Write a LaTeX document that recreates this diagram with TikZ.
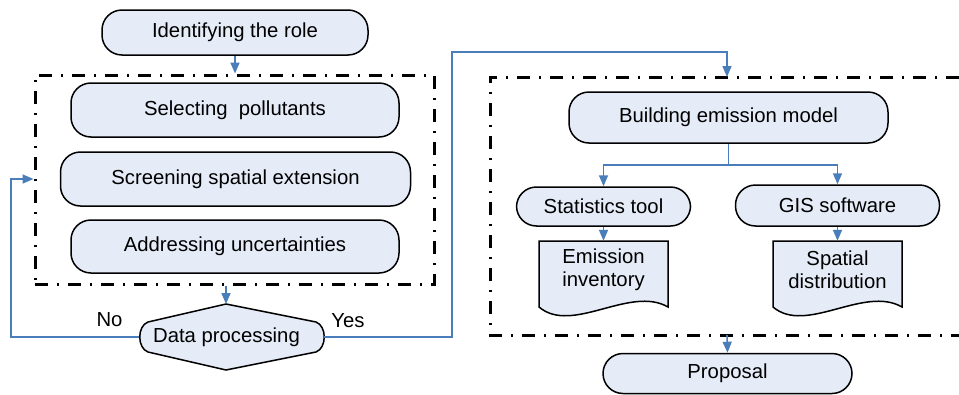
\documentclass[tikz,border=0pt]{standalone}
\usepackage{fontspec}
\setmainfont{Liberation Sans}
\usetikzlibrary{arrows.meta}
\definecolor{boxfill}{RGB}{229,236,247}
\definecolor{flowblue}{RGB}{74,126,187}
\begin{document}
\begin{tikzpicture}[x=1pt,y=-1pt,
  font=\fontsize{20.3}{23}\selectfont,
  proc/.style={draw=black, line width=1.5pt, fill=boxfill, rounded corners=20pt, inner sep=0pt},
  shapeline/.style={draw=black, line width=1.5pt, fill=boxfill},
  grp/.style={draw=black, line width=3pt, dash pattern=on 13pt off 9pt on 2pt off 9pt},
  flow/.style={draw=flowblue, line width=1.6pt, -{Triangle[length=11pt,width=9pt]}},
  wire/.style={draw=flowblue, line width=1.6pt},
  plain/.style={inner sep=0pt, align=center},
]
\useasboundingbox (0,0) rectangle (959,394);

% ---- left stage ----
\node[proc, minimum width=266pt, minimum height=45pt] (ident) at (235,32.5) {Identifying the role};
\node[grp, minimum width=399pt, minimum height=209pt, inner sep=0pt] (leftgrp) at (234.5,179.5) {};
\node[proc, minimum width=328pt, minimum height=54pt] (selp) at (235,110) {Selecting\ \ pollutants};
\node[proc, minimum width=350pt, minimum height=54pt] (screen) at (235.5,179) {Screening spatial extension};
\node[proc, minimum width=328pt, minimum height=53pt] (addr) at (235,246.5) {Addressing uncertainties};

% decision: data processing
\draw[shapeline] (226,304) -- (148,322) .. controls (137,326) and (137,348) .. (148,352)
  -- (226,370) -- (316,352) .. controls (327,348) and (327,326) .. (316,322) -- cycle;
\coordinate (dpN) at (226,304);
\coordinate (dpW) at (139,337);
\coordinate (dpE) at (324,337);
\node[plain] (dp) at (226.5,337) {Data processing};
\node[plain] (nolbl) at (109.5,320) {No};
\node[plain] (yeslbl) at (348,321) {Yes};

% ---- right stage (open towards the right edge) ----
\coordinate (rgTR) at (959,77);
\coordinate (rgTL) at (490,77);
\coordinate (rgBL) at (490,335);
\coordinate (rgBR) at (959,335);
\coordinate (rgTop) at (727,77);
\coordinate (rgBot) at (727,335);
\draw[grp] (rgTR) -- (rgTL) -- (rgBL) -- (rgBR);

\node[proc, minimum width=319pt, minimum height=51pt] (build) at (728.5,117.5) {Building emission model};
\node[proc, minimum width=174pt, minimum height=39pt] (stat) at (603.5,206.5) {Statistics tool};
\node[proc, minimum width=204pt, minimum height=41pt] (gis) at (837.5,205.5) {GIS software};

% document shapes with wavy bottom
\draw[shapeline] (539,241) -- (668,241) -- (668,307) .. controls (630,285) and (572,335) .. (539,307) -- cycle;
\draw[shapeline] (773,241) -- (902,241) -- (902,307) .. controls (864,285) and (806,335) .. (773,307) -- cycle;
\node[plain, minimum width=129pt, minimum height=58pt] (inv) at (603.5,270) {Emission\\inventory};
\node[plain, minimum width=129pt, minimum height=58pt] (spat) at (837.5,270) {Spatial\\distribution};

\node[proc, minimum width=249pt, minimum height=40pt] (prop) at (727.5,373.5) {Proposal};

% ---- connectors ----
\draw[flow] (ident.south) -- (ident.south |- leftgrp.north);
\draw[flow] (leftgrp.south -| dpN) -- (dpN);
\coordinate (noLoop) at (11,179);
\draw[flow] (dpW) -| (noLoop) -- (noLoop -| leftgrp.west);
\coordinate (yesLoop) at (452,52);
\draw[flow] (dpE) -| (yesLoop) -| (rgTop);
\coordinate (split) at (728.5,165);
\draw[wire] (build.south) -- (split);
\draw[flow] (split) -| (stat.north);
\draw[flow] (split) -| (gis.north);
\draw[flow] (stat.south) -- (inv.north);
\draw[flow] (gis.south) -- (spat.north);
\draw[flow] (rgBot) -- (prop.north);
\end{tikzpicture}
\end{document}
